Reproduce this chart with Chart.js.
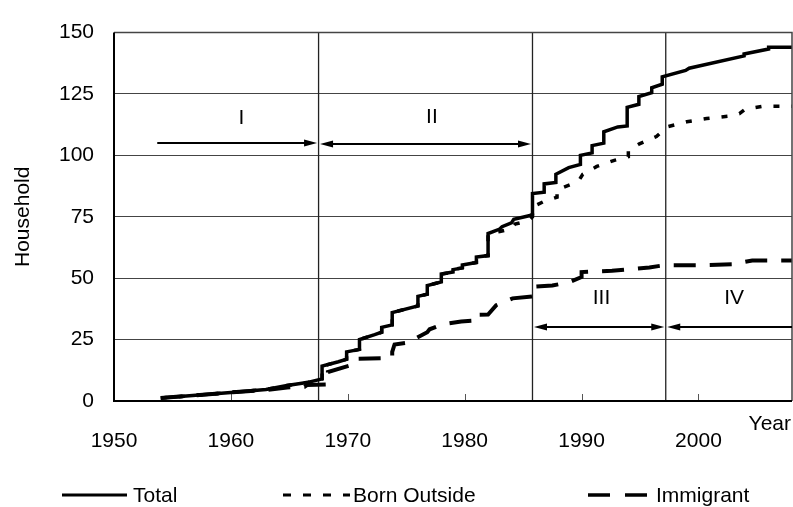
<!DOCTYPE html>
<html>
<head>
<meta charset="utf-8">
<script src="https://cdn.jsdelivr.net/npm/chart.js@4.4.1/dist/chart.umd.min.js"></script>
<style>
html,body{margin:0;padding:0;background:#fff;}
#wrap{position:relative;width:793px;height:507px;}
#c{position:absolute;left:0;top:0;}
#legend{position:absolute;left:0;top:0;width:793px;height:507px;pointer-events:none;
  font-family:'Liberation Sans',Arial,sans-serif;font-size:21px;color:#000;}
#legend svg{position:absolute;left:0;top:0;}
.lt{position:absolute;top:483px;line-height:24px;white-space:nowrap;}
</style>
</head>
<body>
<div id="wrap">
  <canvas id="c" width="793" height="507"></canvas>
  <div id="legend">
    <svg width="793" height="507">
      <line x1="62" y1="495" x2="127" y2="495" stroke="#000" stroke-width="3"/>
      <line x1="283" y1="495" x2="350" y2="495" stroke="#000" stroke-width="3" stroke-dasharray="8 12"/>
      <line x1="588" y1="495" x2="648" y2="495" stroke="#000" stroke-width="3.5" stroke-dasharray="22 15"/>
    </svg>
    <span class="lt" id="l0" style="left:133px"></span>
    <span class="lt" id="l1" style="left:353px"></span>
    <span class="lt" id="l2" style="left:656px"></span>
  </div>
</div>
<script>
// ---------- data ----------
const seriesNames = ['Total', 'Born Outside', 'Immigrant'];
const xTickYears = [1950, 1960, 1970, 1980, 1990, 2000];
const yTickValues = [0, 25, 50, 75, 100, 125, 150];
const periodLabels = ['I', 'II', 'III', 'IV'];
const periodBounds = [1953.7, 1967.5, 1985.8, 1997.2, 2008];

const totalSteps = [
  [1954,1.2],[1957,2.3],[1960,3.5],[1963,4.7],[1964.8,6.3],[1966.5,7.5],[1967.8,9],[1967.8,14.2],
  [1969.2,16],[1969.9,17],[1969.9,20],[1971,21],[1971,25],[1972.3,27],[1972.9,28],[1972.9,30],
  [1973.8,31],[1973.8,36],[1976,38.7],[1976,42.6],[1976.8,43.5],[1976.8,47],[1978,48.5],[1978,51.7],
  [1979,52.5],[1979,53.5],[1979.8,54.2],[1979.8,55.4],[1981,56.4],[1981,58.6],[1982,59.2],[1982,68.2],
  [1983,70],[1983.2,71],[1984,72.5],[1984.2,74],[1985.5,75.4],[1985.8,76],[1985.8,84.5],[1986.8,85],
  [1986.8,88.4],[1987.8,89],[1987.8,92.3],[1988.9,95],[1989.9,96.3],[1989.9,100],[1990.9,101],[1990.9,104],
  [1991.9,105],[1991.9,109.6],[1993.1,111.6],[1993.9,112],[1993.9,119.6],[1994.9,120.8],[1994.9,124],
  [1996,125.5],[1996,127.5],[1996.9,129],[1996.9,132],[1998.9,134.6],[1999.2,135.5],[2003.9,140.5],
  [2003.9,141.3],[2006,143.3],[2006,144],[2008,144]
];
const bornOutsideSteps = [
  [1954,1.2],[1957,2.3],[1960,3.5],[1963,4.7],[1964.8,6.3],[1966.5,7.5],[1967.8,9],[1967.8,14.2],
  [1969.2,16],[1969.9,17],[1969.9,20],[1971,21],[1971,25],[1972.3,27],[1972.9,28],[1972.9,30],
  [1973.8,31],[1973.8,36],[1976,38.7],[1976,42.6],[1976.8,43.5],[1976.8,47],[1978,48.5],[1978,51.7],
  [1979,52.5],[1979,53.5],[1979.8,54.2],[1979.8,55.4],[1981,56.4],[1981,58.6],[1982,59.2],[1982,68.2],
  [1983,69],[1984,70.2],[1984.3,72],[1985.5,73.5],[1985.8,75],[1985.8,79],[1986.8,81.3],[1987.9,83],
  [1987.9,86],[1989.2,88.4],[1989.8,90],[1990.1,92.3],[1991.3,95.5],[1992.8,98],[1994,99.5],[1994,102],
  [1994.9,104.6],[1996.4,107.7],[1997.3,111.6],[1999,113.7],[2000.7,115],[2002.6,116],[2003.5,117],
  [2004,118.8],[2005.5,120],[2008,120]
];
const immigrantSteps = [
  [1954,1.2],[1957,2.3],[1960,3.5],[1963,4.5],[1964.8,5.5],[1966.3,5.8],[1966.5,6.5],[1968.3,6.8],
  [1968.3,11.8],[1970.3,14.6],[1970.6,17.2],[1973.8,17.5],[1973.8,20],[1974,23],[1975.5,24],[1975.9,25.7],
  [1976.8,28],[1977,29.2],[1978.1,31.2],[1979.7,32.4],[1981,32.8],[1981,35.1],[1982,35.2],[1982.7,39],
  [1984.1,41.8],[1985.8,42.6],[1985.8,46.5],[1987.5,47],[1989,48.5],[1990,50.5],[1990,52.5],[1992.6,53],
  [1994.3,53.7],[1995.8,54.4],[1997.1,55.3],[2000.5,55.3],[2003.3,55.7],[2003.6,56.3],[2004.6,57.2],[2008,57.2]
];

// ---------- legend text ----------
seriesNames.forEach((n, i) => { document.getElementById('l' + i).textContent = n; });

const toXY = arr => arr.map(p => ({x: p[0], y: p[1]}));
const FONT = "'Liberation Sans', Arial, sans-serif";
Chart.defaults.font.family = FONT;
Chart.defaults.font.size = 21;
Chart.defaults.color = '#000';

// period annotation layout (value units)
const arrowRows = [105, 104.5, 30, 30];
const labelRows = [115.3, 115.5, 41.8, 41.8];
const labelCols = [1960.9, 1977.2, 1991.7, 2003.05];
const arrowHeads = [[false, true], [true, true], [true, true], [true, false]];

function arrowHead(ctx, tipX, y, dir) {
  const len = 13, hw = 3.6;
  ctx.beginPath();
  ctx.moveTo(tipX, y);
  ctx.lineTo(tipX - dir * len, y - hw);
  ctx.lineTo(tipX - dir * len, y + hw);
  ctx.closePath();
  ctx.fill();
}

const overlayPlugin = {
  id: 'overlay',
  beforeDatasetsDraw(chart) {
    const {ctx, chartArea: a, scales: {x}} = chart;
    ctx.save();
    ctx.strokeStyle = '#555';
    ctx.lineWidth = 1;
    xTickYears.forEach(v => {
      if (v === xTickYears[0]) return;
      const px = Math.round(x.getPixelForValue(v)) + 0.5;
      ctx.beginPath(); ctx.moveTo(px, a.bottom); ctx.lineTo(px, a.bottom - 7); ctx.stroke();
    });
    ctx.strokeStyle = '#222';
    ctx.lineWidth = 1.3;
    periodBounds.slice(1, -1).forEach(v => {
      const px = x.getPixelForValue(v);
      ctx.beginPath(); ctx.moveTo(px, a.top); ctx.lineTo(px, a.bottom); ctx.stroke();
    });
    ctx.restore();
  },
  afterDatasetsDraw(chart) {
    const {ctx, chartArea: a, scales: {x, y}} = chart;
    ctx.save();
    // frame
    ctx.strokeStyle = '#444'; ctx.lineWidth = 1.5;
    ctx.beginPath(); ctx.moveTo(a.left, a.top); ctx.lineTo(a.right, a.top); ctx.lineTo(a.right, a.bottom); ctx.stroke();
    ctx.strokeStyle = '#000'; ctx.lineWidth = 2;
    ctx.beginPath(); ctx.moveTo(a.left, a.top); ctx.lineTo(a.left, a.bottom); ctx.lineTo(a.right, a.bottom); ctx.stroke();
    // period arrows + labels
    ctx.fillStyle = '#000'; ctx.strokeStyle = '#000'; ctx.lineWidth = 2;
    ctx.font = '21px ' + FONT;
    ctx.textAlign = 'center'; ctx.textBaseline = 'middle';
    periodLabels.forEach((lab, i) => {
      const gap = 1.5;
      const x1 = x.getPixelForValue(periodBounds[i]) + (arrowHeads[i][0] ? gap : 0);
      const x2 = Math.min(x.getPixelForValue(periodBounds[i + 1]), a.right) - (arrowHeads[i][1] ? gap : 0);
      const py = Math.round(y.getPixelForValue(arrowRows[i]));
      ctx.beginPath(); ctx.moveTo(x1 + (arrowHeads[i][0] ? 6 : 0), py); ctx.lineTo(x2 - (arrowHeads[i][1] ? 6 : 0), py); ctx.stroke();
      if (arrowHeads[i][0]) arrowHead(ctx, x1, py, -1);
      if (arrowHeads[i][1]) arrowHead(ctx, x2, py, 1);
      ctx.fillText(lab, x.getPixelForValue(labelCols[i]), y.getPixelForValue(labelRows[i]));
    });
    // x axis title
    ctx.textAlign = 'right';
    ctx.fillText('Year', a.right - 1, a.bottom + 23);
    ctx.restore();
  }
};

new Chart(document.getElementById('c'), {
  type: 'line',
  data: {
    datasets: [
      {label: seriesNames[1], data: toXY(bornOutsideSteps), borderColor: '#000', borderWidth: 3.5,
       borderDash: [6, 12], pointRadius: 0, tension: 0, fill: false},
      {label: seriesNames[2], data: toXY(immigrantSteps), borderColor: '#000', borderWidth: 4,
       borderDash: [22, 14], pointRadius: 0, tension: 0, fill: false},
      {label: seriesNames[0], data: toXY(totalSteps), borderColor: '#000', borderWidth: 3.5,
       pointRadius: 0, tension: 0, fill: false}
    ]
  },
  options: {
    responsive: false,
    animation: false,
    events: [],
    layout: {padding: {left: 7, top: 21, right: 1, bottom: 0}},
    plugins: {legend: {display: false}, tooltip: {enabled: false}},
    scales: {
      x: {
        type: 'linear', min: 1950, max: 2008,
        afterFit: s => { s.height = 106; },
        afterBuildTicks: s => { s.ticks = xTickYears.map(v => ({value: v})); },
        ticks: {padding: 28, callback: v => String(v), maxRotation: 0, autoSkip: false},
        grid: {display: false, drawTicks: false},
        border: {display: false}
      },
      y: {
        type: 'linear', min: 0, max: 150,
        afterFit: s => { s.width = 107; },
        afterBuildTicks: s => { s.ticks = yTickValues.map(v => ({value: v})); },
        ticks: {padding: 20, callback: v => String(v)},
        grid: {color: '#444', lineWidth: 1, drawTicks: false},
        border: {display: false},
        title: {display: true, text: 'Household', font: {size: 21}, padding: {top: 4, bottom: 4}}
      }
    }
  },
  plugins: [overlayPlugin]
});
</script>
</body>
</html>
